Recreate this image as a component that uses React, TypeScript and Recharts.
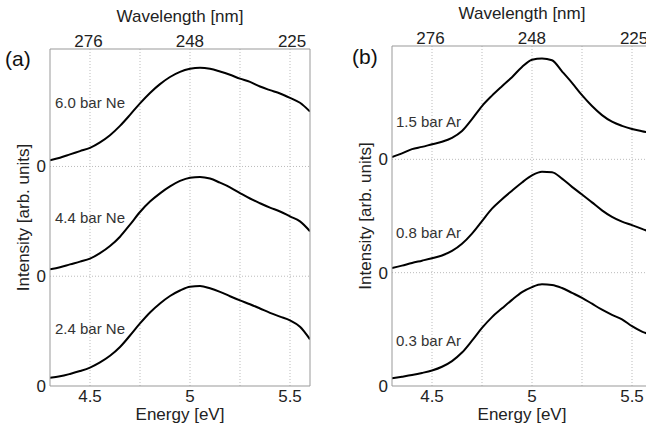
import React from "react";
import {
  LineChart,
  Line,
  XAxis,
  YAxis,
  ReferenceLine,
  ReferenceDot,
} from "recharts";

// photon energy grid [eV]
const energy = [
  4.3, 4.35, 4.4, 4.45, 4.5, 4.55, 4.6, 4.65, 4.7, 4.75, 4.8, 4.85, 4.9, 4.95,
  5.0, 5.05, 5.1, 5.15, 5.2, 5.25, 5.3, 5.35, 5.4, 5.45, 5.5, 5.55, 5.6,
];

// (a) neon spectra, normalised
const ne60 = [
  0.057, 0.08, 0.11, 0.14, 0.17, 0.22, 0.285, 0.37, 0.47, 0.575, 0.67, 0.75,
  0.815, 0.862, 0.89, 0.9, 0.89, 0.865, 0.835, 0.8, 0.77, 0.728, 0.695, 0.665,
  0.625, 0.58, 0.5,
];
const ne44 = [
  0.064, 0.082, 0.108, 0.133, 0.16, 0.21, 0.275, 0.36, 0.47, 0.585, 0.68, 0.755,
  0.818, 0.868, 0.898, 0.905, 0.89, 0.852, 0.81, 0.758, 0.708, 0.665, 0.625,
  0.59, 0.545, 0.5, 0.41,
];
const ne24 = [
  0.075, 0.088, 0.11, 0.136, 0.168, 0.215, 0.275, 0.355, 0.46, 0.57, 0.67,
  0.752, 0.82, 0.87, 0.905, 0.91, 0.89, 0.858, 0.818, 0.78, 0.745, 0.706, 0.666,
  0.632, 0.598, 0.54, 0.425,
];

// (b) argon spectra, normalised
const ar15 = [
  0.02, 0.053, 0.09, 0.11, 0.133, 0.155, 0.19, 0.25, 0.355, 0.47, 0.562, 0.645,
  0.725, 0.815, 0.878, 0.89, 0.874, 0.776, 0.675, 0.566, 0.47, 0.39, 0.332,
  0.295, 0.268, 0.248, 0.23,
];
const ar08 = [
  0.04, 0.062, 0.086, 0.106, 0.127, 0.152, 0.192, 0.255, 0.345, 0.455, 0.565,
  0.648, 0.723, 0.796, 0.858, 0.89, 0.886, 0.83, 0.757, 0.69, 0.62, 0.55, 0.492,
  0.45, 0.42, 0.387, 0.35,
];
const ar03 = [
  0.068, 0.082, 0.097, 0.115, 0.137, 0.17, 0.22, 0.295, 0.4, 0.512, 0.608,
  0.685, 0.76, 0.828, 0.873, 0.897, 0.892, 0.865, 0.822, 0.778, 0.726, 0.673,
  0.628, 0.588, 0.528, 0.48, 0.45,
];

const labelsA = ["6.0 bar Ne", "4.4 bar Ne", "2.4 bar Ne"];
const labelsB = ["1.5 bar Ar", "0.8 bar Ar", "0.3 bar Ar"];

const energyTicks = [4.5, 5, 5.5];
const gridEnergies = [4.5, 4.75, 5, 5.25, 5.5];
const wavelengthTicks = [276, 248, 225];
const zeroLevels = [0, 1, 2];

const HC = 1239.84; // eV*nm
const FONT = '"Liberation Sans", Arial, Helvetica, sans-serif';
const FRAME = "#999";
const GRID = "#bbb";

const stackRows = (a: number[], b: number[], c: number[]) =>
  energy.map((e, i) => ({ e, s0: a[i] + 2, s1: b[i] + 1, s2: c[i] }));

interface PanelProps {
  left: number;
  top: number;
  yMax: number;
  rows: { e: number; s0: number; s1: number; s2: number }[];
  labels: string[];
  labelY: number[];
  labelE: number;
}

const Panel = ({ left, top, yMax, rows, labels, labelY, labelE }: PanelProps) => (
  <div style={{ position: "absolute", left, top: 0 }}>
    <LineChart
      width={330}
      height={428}
      data={rows}
      margin={{ top, right: 19, bottom: 2, left: 0 }}
    >
      <XAxis
        xAxisId="e"
        dataKey="e"
        type="number"
        domain={[4.3, 5.6]}
        allowDataOverflow
        ticks={energyTicks}
        interval={0}
        height={40}
        tickLine={false}
        tickSize={2}
        tickMargin={2}
        axisLine={{ stroke: FRAME }}
        tick={{ fill: "#222", fontSize: 17 }}
        label={{
          value: "Energy [eV]",
          position: "insideBottom",
          offset: 6,
          fill: "#222",
          fontSize: 17,
        }}
      />
      <XAxis
        xAxisId="w"
        dataKey="e"
        orientation="top"
        type="number"
        domain={[4.3, 5.6]}
        allowDataOverflow
        ticks={wavelengthTicks.map((nm) => HC / nm)}
        tickFormatter={(v: number) => String(Math.round(HC / v))}
        interval={0}
        height={45}
        tickLine={false}
        tickSize={1}
        tickMargin={1}
        axisLine={{ stroke: FRAME }}
        tick={{ fill: "#222", fontSize: 17 }}
        label={{
          value: "Wavelength [nm]",
          position: "insideTop",
          offset: 6,
          fill: "#222",
          fontSize: 17,
        }}
      />
      <YAxis
        yAxisId="l"
        type="number"
        domain={[0, yMax]}
        allowDataOverflow
        ticks={zeroLevels}
        tickFormatter={() => "0"}
        interval={0}
        width={50}
        tickLine={false}
        tickSize={2}
        tickMargin={2}
        axisLine={{ stroke: FRAME }}
        tick={{ fill: "#222", fontSize: 17 }}
        label={{
          value: "Intensity [arb. units]",
          angle: -90,
          position: "insideLeft",
          offset: 23,
          fill: "#222",
          fontSize: 17,
          style: { textAnchor: "middle" },
        }}
      />
      <YAxis
        yAxisId="r"
        orientation="right"
        type="number"
        domain={[0, yMax]}
        allowDataOverflow
        width={1}
        tick={false}
        tickLine={false}
        axisLine={{ stroke: FRAME }}
      />
      {gridEnergies.map((g) => (
        <ReferenceLine
          key={"gx" + g}
          xAxisId="e"
          yAxisId="l"
          x={g}
          stroke={GRID}
          strokeDasharray="1 2"
        />
      ))}
      {zeroLevels.slice(1).map((z) => (
        <ReferenceLine
          key={"gy" + z}
          xAxisId="e"
          yAxisId="l"
          y={z}
          stroke={GRID}
          strokeDasharray="1 2"
        />
      ))}
      {["s0", "s1", "s2"].map((k) => (
        <Line
          key={k}
          xAxisId="e"
          yAxisId="l"
          dataKey={k}
          type="monotone"
          stroke="#000"
          strokeWidth={2}
          dot={false}
          isAnimationActive={false}
        />
      ))}
      {labels.map((t, i) => (
        <ReferenceDot
          key={t}
          xAxisId="e"
          yAxisId="l"
          x={labelE}
          y={labelY[i]}
          r={0.01}
          fill="none"
          stroke="none"
          label={{
            value: t,
            position: "right",
            offset: 0,
            fill: "#333",
            fontSize: 15,
          }}
        />
      ))}
    </LineChart>
  </div>
);

const letterStyle: React.CSSProperties = {
  position: "absolute",
  fontSize: 21,
  lineHeight: "21px",
  color: "#111",
};

export default function App() {
  return (
    <div
      style={{
        position: "absolute",
        left: 0,
        top: 0,
        width: 646,
        height: 428,
        overflow: "hidden",
        background: "#fff",
        fontFamily: FONT,
      }}
    >
      <Panel
        left={0}
        top={4}
        yMax={3.07}
        rows={stackRows(ne60, ne44, ne24)}
        labels={labelsA}
        labelY={[2.577, 1.53, 0.52]}
        labelE={4.325}
      />
      <Panel
        left={342}
        top={1}
        yMax={3}
        rows={stackRows(ar15, ar08, ar03)}
        labels={labelsB}
        labelY={[2.334, 1.354, 0.397]}
        labelE={4.32}
      />
      <span style={{ ...letterStyle, left: 5, top: 48 }}>(a)</span>
      <span style={{ ...letterStyle, left: 352, top: 46 }}>(b)</span>
    </div>
  );
}
